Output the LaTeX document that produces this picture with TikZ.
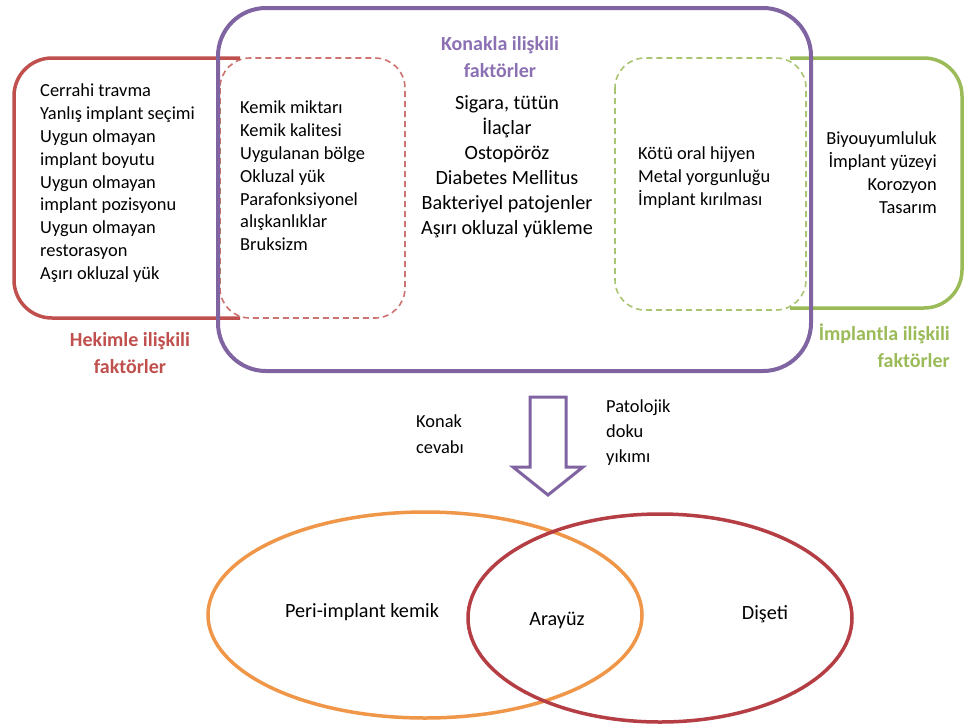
\documentclass[tikz,border=0pt]{standalone}
\usepackage{fontspec}
\setmainfont{Carlito}
\usetikzlibrary{positioning}
\definecolor{konak}{RGB}{128,100,162}
\definecolor{konaktext}{RGB}{140,112,180}
\definecolor{hekim}{RGB}{192,80,77}
\definecolor{implant}{RGB}{155,187,89}
\definecolor{kemik}{RGB}{240,150,72}
\definecolor{diseti}{RGB}{180,62,68}
\tikzset{
  listtext/.style={font=\fontsize{18.4}{22.8}\selectfont, inner sep=0pt},
  bigtext/.style={font=\fontsize{20.2}{25}\selectfont, inner sep=0pt},
  labeltext/.style={font=\bfseries\fontsize{20}{27}\selectfont, inner sep=0pt},
  dashbox/.style={dashed, dash pattern=on 6pt off 4pt, line width=1.6pt, rounded corners=30pt}
}
\begin{document}
\begin{tikzpicture}[x=1pt,y=-1pt]
  \useasboundingbox[fill=white] (0,0) rectangle (964,724);

  % dashed overlaps first
  \draw[dashbox, hekim!80] (220,58) rectangle (405,318);
  \draw[dashbox, implant!85] (615,58) rectangle (806,310);

  % solid halves
  \draw[hekim, line width=3.5pt, rounded corners=38pt]
    (240,58) -- (14,58) -- (14,318) -- (240,318);
  \draw[implant, line width=3.5pt, rounded corners=38pt]
    (790,58) -- (962,58) -- (962,308) -- (790,308);

  % host box
  \draw[konak, line width=4pt, rounded corners=48pt] (218,8) rectangle (811,371);

  % texts
  \node[labeltext, konaktext, align=center] (konakLabel) at (500,57)
    {Konakla ilişkili\\faktörler};
  \node[bigtext, align=center, anchor=north] (konakList) at (507,95)
    {Sigara, tütün\\İlaçlar\\Ostopöröz\\Diabetes Mellitus\\Bakteriyel patojenler\\Aşırı okluzal yükleme};

  \node[listtext, align=left, anchor=north west] (hekimList) at (40,84)
    {Cerrahi travma\\Yanlış implant seçimi\\Uygun olmayan\\implant boyutu\\Uygun olmayan\\implant pozisyonu\\Uygun olmayan\\restorasyon\\Aşırı okluzal yük};
  \node[listtext, align=left, anchor=north west] (ortakHekim) at (240,101)
    {Kemik miktarı\\Kemik kalitesi\\Uygulanan bölge\\Okluzal yük\\Parafonksiyonel\\alışkanlıklar\\Bruksizm};
  \node[labeltext, hekim, align=center] (hekimLabel) at (130,353)
    {Hekimle ilişkili\\faktörler};

  \node[listtext, align=left, anchor=north west] (ortakImplant) at (638,147)
    {Kötü oral hijyen\\Metal yorgunluğu\\İmplant kırılması};
  \node[listtext, align=right, anchor=north east] (implantList) at (937,132)
    {Biyouyumluluk\\İmplant yüzeyi\\Korozyon\\Tasarım};
  \node[labeltext, implant, align=right, anchor=east] (implantLabel) at (950,346)
    {İmplantla ilişkili\\faktörler};

  % arrow
  \draw[konak, line width=3pt, line join=miter]
    (530,397) -- (566,397) -- (566,467) -- (583,467) -- (548,495)
    -- (513,467) -- (530,467) -- cycle;
  \node[listtext, align=left, font=\fontsize{18.4}{26}\selectfont] (konakCevap) at (440,434) {Konak\\cevabı};
  \node[listtext, align=left, anchor=west, font=\fontsize{18.4}{25}\selectfont] (yikim) at (606,433) {Patolojik\\doku\\yıkımı};

  % tissues
  \draw[kemik, line width=3.5pt] (425,615) ellipse (217pt and 103pt);
  \draw[diseti, line width=3.5pt] (660,618) ellipse (192pt and 104pt);
  \node[bigtext] (kemikText) at (362,612) {Peri-implant kemik};
  \node[bigtext] (arayuz) at (557,620) {Arayüz};
  \node[bigtext] (disetiText) at (765,614) {Dişeti};
\end{tikzpicture}
\end{document}
